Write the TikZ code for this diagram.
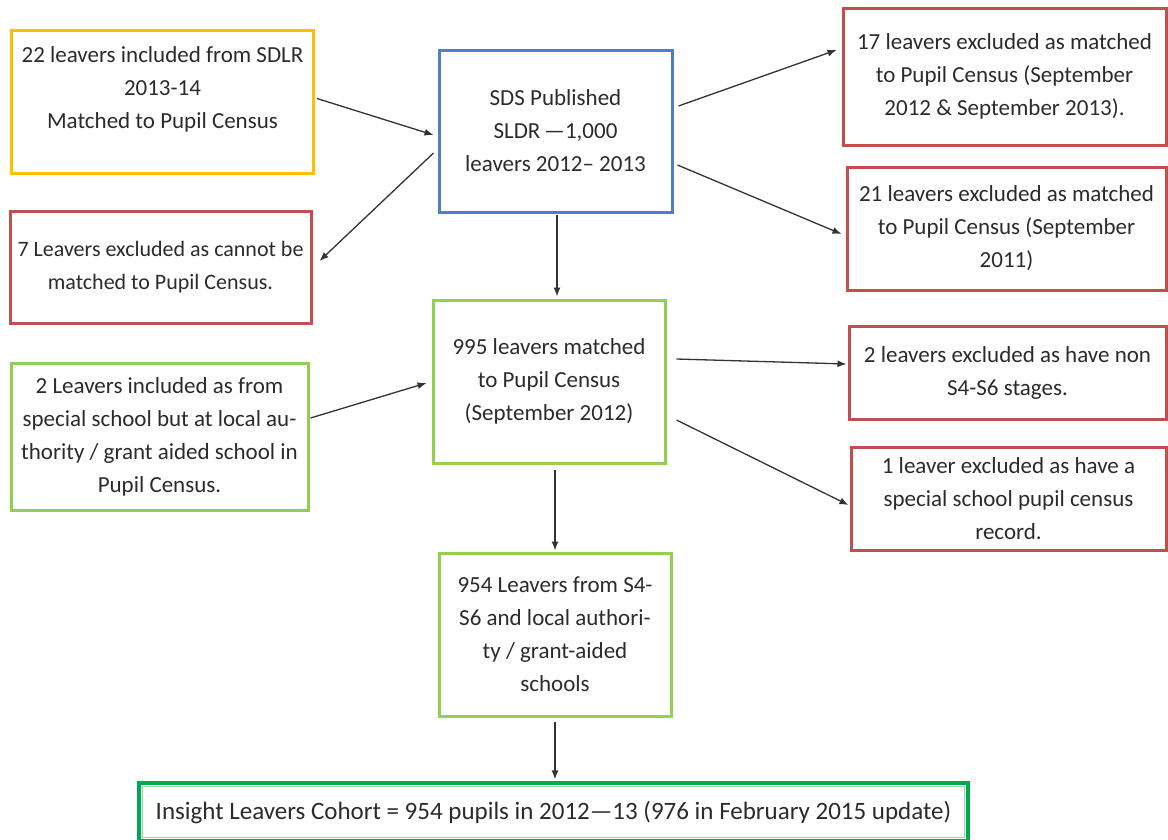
\documentclass[tikz,border=0pt]{standalone}
\usepackage{fontspec}
\setmainfont{Carlito}
\usetikzlibrary{arrows.meta}
\definecolor{cyel}{HTML}{FFC000}
\definecolor{cblue}{HTML}{4F7EC6}
\definecolor{cred}{HTML}{C0504D}
\definecolor{cgreen}{HTML}{92D050}
\definecolor{cdkgreen}{HTML}{00A84F}
\definecolor{clgreen}{HTML}{8FDCA8}
\definecolor{ctext}{HTML}{2B2B2B}
\definecolor{carrow}{HTML}{333333}
\begin{document}
\begin{tikzpicture}[x=1pt,y=-1pt,
  box/.style={draw, line width=3pt, align=center, inner sep=0pt, text=ctext,
    font=\fontsize{23}{33}\selectfont},
  arr/.style={-{Latex[length=9pt,width=7pt]}, line width=1.3pt, draw=carrow}]
\useasboundingbox (0,0) rectangle (1168,839);

\node[box, draw=cyel, minimum width=302, minimum height=143] (inc22) at (162.5,101.5)
  {22 leavers included from SDLR\\2013-14\\Matched to Pupil Census\\[-6pt]\mbox{}};
\node[box, draw=cblue, minimum width=233, minimum height=162] (sds) at (555.5,131)
  {SDS Published\\SLDR\,—1,000\\leavers 2012– 2013};
\node[box, draw=cred, minimum width=301, minimum height=112, font=\fontsize{22}{33}\selectfont] (ex7) at (160.5,267)
  {7 Leavers excluded as cannot be\\matched to Pupil Census.};
\node[box, draw=cred, minimum width=323, minimum height=137] (ex17) at (1004.5,76.5)
  {17 leavers excluded as matched\\to Pupil Census (September\\2012 \& September 2013).};
\node[box, draw=cred, minimum width=319, minimum height=123] (ex21) at (1006.5,228.5)
  {21 leavers excluded as matched\\to Pupil Census (September\\2011)};
\node[box, draw=cgreen, minimum width=232, minimum height=163] (m995) at (549,381.5)
  {995 leavers matched\\to Pupil Census\\(September 2012)};
\node[box, draw=cgreen, minimum width=297, minimum height=147] (inc2) at (159.5,437)
  {2 Leavers included as from\\special school but at local au-\\thority / grant aided school in\\Pupil Census.};
\node[box, draw=cred, minimum width=317, minimum height=93] (ex2) at (1007.5,372.5)
  {2 leavers excluded as have non\\S4-S6 stages.};
\node[box, draw=cred, minimum width=315, minimum height=103] (ex1) at (1008.5,498.5)
  {1 leaver excluded as have a\\special school pupil census\\record.};
\node[box, draw=cgreen, minimum width=232, minimum height=163] (m954) at (555,634.5)
  {954 Leavers from S4-\\S6 and local authori-\\ty / grant-aided\\schools};
\node[box, draw=cdkgreen, line width=3.2pt, minimum width=829, minimum height=58,
  font=\fontsize{25}{30}\selectfont] (cohort) at (553.5,812)
  {Insight Leavers Cohort = 954 pupils in 2012—13 (976 in February 2015 update)};
\draw[clgreen, line width=1.6pt] ([shift={(5,5)}]cohort.north west) rectangle ([shift={(-5,-5)}]cohort.south east);

\draw[arr] ([shift={(2,-3)}]inc22.east) -- ([shift={(-4,4)}]sds.west);
\draw[arr] ([shift={(-4,22)}]sds.west) -- ([shift={(7,-6)}]ex7.east);
\draw[arr] ([shift={(5,-25)}]sds.east) -- ([shift={(-5,-26.5)}]ex17.west);
\draw[arr] ([shift={(4,34)}]sds.east) -- ([shift={(-4,5.5)}]ex21.west);
\draw[arr, shorten <=1pt, shorten >=2pt] ([xshift=1.5pt]sds.south) -- ([xshift=1.5pt]sds.south |- m995.north);
\draw[arr] ([shift={(1,-19)}]inc2.east) -- ([shift={(-5,1.5)}]m995.west);
\draw[arr] ([shift={(10,-22.5)}]m995.east) -- ([shift={(-1,-8.5)}]ex2.west);
\draw[arr] ([shift={(10,38.5)}]m995.east) -- ([shift={(-1,6.5)}]ex1.west);
\draw[arr, shorten <=5pt, shorten >=1pt] (m954.north |- m995.south) -- (m954.north);
\draw[arr, shorten <=4pt, shorten >=2pt] (m954.south) -- (m954.south |- cohort.north);
\end{tikzpicture}
\end{document}
